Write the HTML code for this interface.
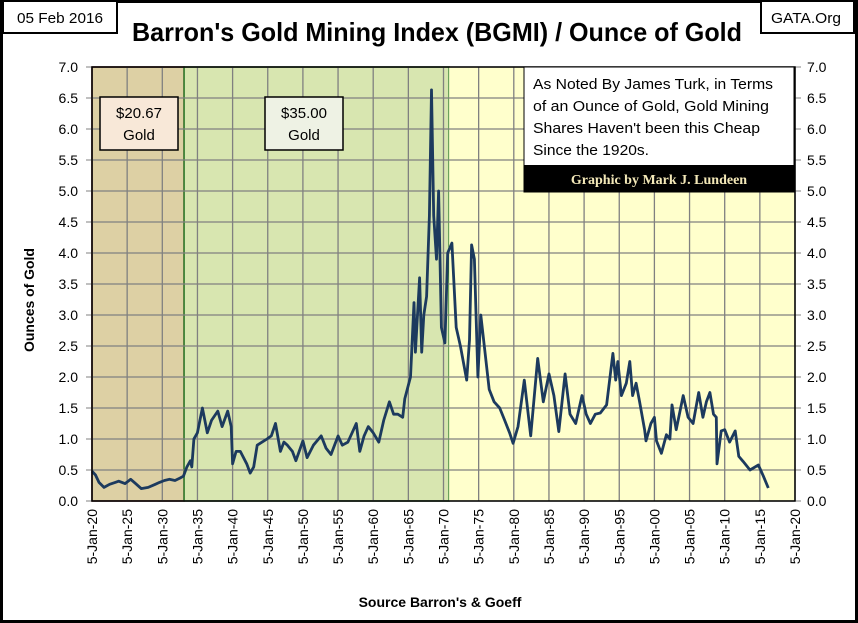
<!DOCTYPE html>
<html><head><meta charset="utf-8"><style>
html,body{margin:0;padding:0;background:#fff}
svg{display:block}
text{font-family:"Liberation Sans",sans-serif}
</style></head><body>
<svg id="chart" width="858" height="623" viewBox="0 0 858 623" xmlns="http://www.w3.org/2000/svg">
<rect x="1.5" y="1.5" width="855" height="620" fill="#fff" stroke="#000" stroke-width="3"/>
<g id="bg"></g>
<g id="grid"></g>
<g id="series"></g>
<g id="axes"></g>
<rect x="3" y="1" width="114" height="32" fill="#fff" stroke="#000" stroke-width="2"/>
<text x="60" y="23" font-size="15" text-anchor="middle" textLength="86" lengthAdjust="spacingAndGlyphs">05 Feb 2016</text>
<rect x="761" y="1" width="93" height="32" fill="#fff" stroke="#000" stroke-width="2"/>
<text x="806" y="23" font-size="15" text-anchor="middle" textLength="70" lengthAdjust="spacingAndGlyphs">GATA.Org</text>
<text x="437" y="41" font-size="26" font-weight="bold" text-anchor="middle" textLength="610" lengthAdjust="spacingAndGlyphs">Barron's Gold Mining Index (BGMI) / Ounce of Gold</text>
<rect x="100" y="97" width="78" height="53" fill="#f8e8d8" stroke="#000" stroke-width="1.5"/>
<text x="139" y="118" font-size="15" text-anchor="middle">$20.67</text>
<text x="139" y="140" font-size="15" text-anchor="middle">Gold</text>
<rect x="265" y="97" width="78" height="53" fill="#eef2e4" stroke="#000" stroke-width="1.5"/>
<text x="304" y="118" font-size="15" text-anchor="middle">$35.00</text>
<text x="304" y="140" font-size="15" text-anchor="middle">Gold</text>
<rect x="524" y="67" width="270" height="125" fill="#fff" stroke="#000" stroke-width="1"/>
<g font-size="15">
<text x="533" y="89" textLength="240" lengthAdjust="spacingAndGlyphs">As Noted By James Turk, in Terms</text>
<text x="533" y="111" textLength="236" lengthAdjust="spacingAndGlyphs">of an Ounce of Gold, Gold Mining</text>
<text x="533" y="133" textLength="227" lengthAdjust="spacingAndGlyphs">Shares Haven't been this Cheap</text>
<text x="533" y="155" textLength="116" lengthAdjust="spacingAndGlyphs">Since the 1920s.</text>
</g>
<rect x="524" y="165" width="270" height="27" fill="#000"/>
<text x="659" y="184" font-size="14" font-weight="bold" fill="#f3e8b8" text-anchor="middle" style="font-family:'Liberation Serif',serif">Graphic by Mark J. Lundeen</text>
<text transform="translate(34,300) rotate(-90)" font-size="14" font-weight="bold" text-anchor="middle" textLength="104">Ounces  of  Gold</text>
<text x="440" y="607" font-size="14" font-weight="bold" text-anchor="middle">Source Barron's &amp; Goeff</text>
</svg>
<script>
const years = [1920,1920.5,1921,1921.7,1922.5,1923.3,1923.8,1924.7,1925.5,1926.2,1927,1928,1929,1929.6,1930.3,1931,1931.8,1932.5,1933,1933.5,1934,1934.2,1934.5,1935,1935.7,1936.4,1937,1937.9,1938.5,1939.3,1939.8,1940,1940.5,1941.1,1942,1942.5,1943,1943.5,1944.2,1944.9,1945.5,1946.1,1946.8,1947.3,1947.8,1948.5,1949,1950,1950.6,1951.5,1952.6,1953.3,1954,1955,1955.6,1956.4,1957,1957.6,1958.1,1958.7,1959.3,1960,1960.8,1961.5,1962.3,1962.9,1963.5,1964.2,1964.5,1965.3,1965.8,1966,1966.6,1966.9,1967.2,1967.6,1968,1968.3,1968.6,1969,1969.3,1969.7,1970.2,1970.6,1971.2,1971.8,1972.4,1973.3,1973.7,1974,1974.4,1974.9,1975.3,1975.8,1976.5,1977.2,1978,1978.7,1979.4,1979.9,1980.6,1981.5,1982.4,1983.4,1984.2,1985,1985.7,1986.4,1987.3,1988,1988.8,1989.7,1990.3,1990.9,1991.6,1992.3,1993.2,1994.1,1994.5,1994.8,1995.3,1996,1996.5,1996.9,1997.4,1997.9,1998.6,1998.8,1999.5,2000,2000.3,2001,2001.7,2002.2,2002.5,2003.1,2004.1,2004.8,2005.5,2006.3,2006.9,2007.4,2007.9,2008.4,2008.8,2008.9,2009.5,2010,2010.7,2011.5,2012,2012.6,2013.6,2014.8,2015.5,2016.2];
const ounces = [0.48,0.42,0.3,0.22,0.27,0.3,0.32,0.28,0.35,0.28,0.2,0.22,0.27,0.3,0.33,0.35,0.33,0.37,0.4,0.55,0.65,0.55,1.0,1.1,1.5,1.1,1.3,1.45,1.2,1.45,1.2,0.6,0.8,0.8,0.6,0.45,0.55,0.9,0.95,1.0,1.05,1.25,0.8,0.95,0.9,0.8,0.65,0.97,0.7,0.9,1.05,0.85,0.75,1.05,0.9,0.95,1.1,1.25,0.8,1.05,1.2,1.1,0.95,1.3,1.6,1.4,1.4,1.35,1.65,2.0,3.2,2.4,3.6,2.4,3.0,3.3,4.6,6.63,4.6,3.9,5.0,2.8,2.55,4.0,4.16,2.8,2.5,1.95,2.6,4.13,3.9,2.0,3.0,2.5,1.8,1.6,1.5,1.3,1.1,0.93,1.2,1.95,1.05,2.3,1.6,2.05,1.7,1.12,2.05,1.4,1.25,1.7,1.4,1.25,1.4,1.42,1.55,2.38,1.95,2.25,1.7,1.9,2.25,1.7,1.9,1.6,1.15,0.97,1.25,1.35,0.97,0.77,1.07,1.0,1.55,1.15,1.7,1.35,1.25,1.75,1.35,1.6,1.75,1.4,1.35,0.6,1.13,1.15,0.95,1.13,0.72,0.64,0.5,0.58,0.4,0.21];
const yTicks = ["0.0","0.5","1.0","1.5","2.0","2.5","3.0","3.5","4.0","4.5","5.0","5.5","6.0","6.5","7.0"];
const xTickYears = [1920,1925,1930,1935,1940,1945,1950,1955,1960,1965,1970,1975,1980,1985,1990,1995,2000,2005,2010,2015,2020];
const eraBounds = [1920,1933.1,1970.8,2020];

const NS="http://www.w3.org/2000/svg";
const L=92,R=795,T=67,B=501;
const xs=y=>L+(y-1920)*(R-L)/100;
const ys=v=>B-v*(B-T)/7;
function mk(tag,attrs,parent){const e=document.createElementNS(NS,tag);for(const k in attrs)e.setAttribute(k,attrs[k]);parent.appendChild(e);return e;}
const bg=document.getElementById('bg'),grid=document.getElementById('grid'),ser=document.getElementById('series'),ax=document.getElementById('axes');
const eraFill=['#ddd0a4','#d8e6b0','#ffffcc'],eraStroke=['#6a1010','#2a7a2a','none'],eraNames=['era-gold-2067','era-gold-3500','era-floating'];
for(let i=0;i<3;i++){
 const r=mk('rect',{x:xs(eraBounds[i]),y:T,width:xs(eraBounds[i+1])-xs(eraBounds[i]),height:B-T,fill:eraFill[i],stroke:eraStroke[i],'stroke-width':1.5},bg);
 
 
}
yTicks.forEach(t=>{
 const y=ys(parseFloat(t));
 const g=mk('line',{x1:L,x2:R,y1:y,y2:y,stroke:'#808080','stroke-width':1.3},grid);
 
 
 mk('line',{x1:L-6,x2:L,y1:y,y2:y,stroke:'#808080'},ax);
 mk('line',{x1:R,x2:R+6,y1:y,y2:y,stroke:'#808080'},ax);
 const a=mk('text',{x:L-14,y:y+5,'font-size':14,'text-anchor':'end'},ax);a.textContent=t;
 
 
 const b=mk('text',{x:R+12,y:y+5,'font-size':14},ax);b.textContent=t;
 
 
});
xTickYears.forEach(yr=>{
 const x=xs(yr);
 const g=mk('line',{x1:x,x2:x,y1:T,y2:B,stroke:'#808080','stroke-width':1.3},grid);
 
 
 const t=mk('text',{transform:`translate(${x+5},${B+8}) rotate(-90)`,'font-size':14,'text-anchor':'end'},ax);
 t.textContent='5-Jan-'+String(yr%100).padStart(2,'0');
 
 
});
const fr=mk('rect',{x:L,y:T,width:R-L,height:B-T,fill:'none',stroke:'#000','stroke-width':1.5},ax);


const pl=mk('polyline',{points:years.map((y,i)=>xs(y).toFixed(1)+','+ys(ounces[i]).toFixed(1)).join(' '),fill:'none',stroke:'#1c3a5e','stroke-width':2.8,'stroke-linejoin':'round'},ser);


</script>
</body></html>
